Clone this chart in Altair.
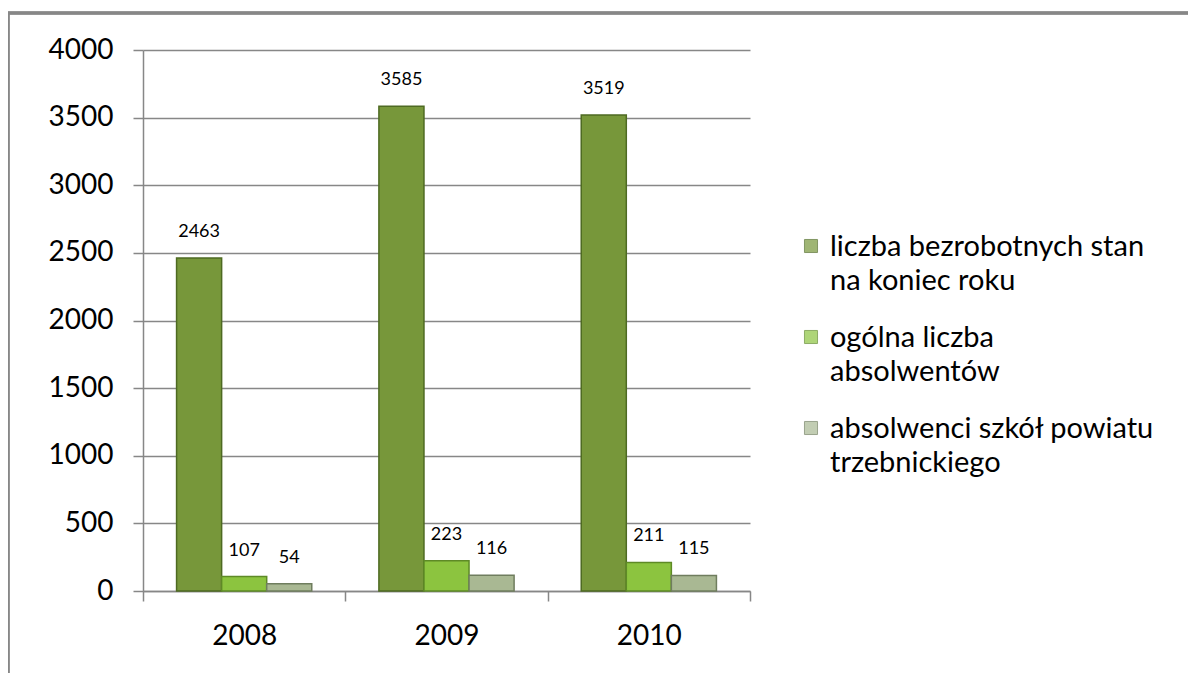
import altair as alt
import pandas as pd

years = ["2008", "2009", "2010"]
series = [
    "liczba bezrobotnych stan\nna koniec roku",
    "ogólna liczba\nabsolwentów",
    "absolwenci szkół powiatu\ntrzebnickiego",
]
unemployed = [2463, 3585, 3519]
graduates = [107, 223, 211]
local_graduates = [54, 116, 115]
y_ticks = [0, 500, 1000, 1500, 2000, 2500, 3000, 3500, 4000]

fills = ["#77973A", "#8CC43F", "#A9B893"]
strokes = ["#4E6A22", "#5E8A26", "#6F7D5E"]

rows = []
for s, vals in zip(series, [unemployed, graduates, local_graduates]):
    for yr, v in zip(years, vals):
        rows.append({"year": yr, "series": s, "value": v})
df = pd.DataFrame(rows)
leg_df = pd.DataFrame({"series": series})

FONT = "Lato"
GRID = "#878787"

color_scale = alt.Scale(domain=series, range=fills)
stroke_scale = alt.Scale(domain=series, range=strokes)

base = alt.Chart(df).encode(
    x=alt.X("year:N", sort=years, title=None,
            scale=alt.Scale(paddingInner=0, paddingOuter=0),
            axis=alt.Axis(labelAngle=0, labelFontSize=28, labelFont=FONT,
                          labelColor="black", labelPadding=21,
                          domainColor=GRID, domainWidth=1.5,
                          tickColor=GRID, tickWidth=1.5, tickSize=10,
                          tickBand="extent", grid=False)),
    xOffset=alt.XOffset("series:N", sort=series,
                        scale=alt.Scale(paddingOuter=0.745, paddingInner=0)),
    y=alt.Y("value:Q", title=None,
            scale=alt.Scale(domain=[0, 4000], nice=False),
            axis=alt.Axis(values=y_ticks, format="d", labelFontSize=28,
                          labelFont=FONT, labelColor="black", labelPadding=20,
                          domainColor=GRID, domainWidth=1.5,
                          tickColor=GRID, tickWidth=1.5, tickSize=10,
                          gridColor=GRID, gridWidth=1.5)),
)

bars = base.mark_bar(strokeWidth=1.5).encode(
    color=alt.Color("series:N", scale=color_scale, legend=None),
    stroke=alt.Stroke("series:N", scale=stroke_scale, legend=None),
)
labels = base.mark_text(dy=-26, baseline="middle", fontSize=18,
                        font=FONT, color="black").encode(text="value:Q")

bar_layer = alt.layer(bars, labels)

leg_y = alt.Y("series:N", sort=series, axis=None,
              scale=alt.Scale(type="point", domain=series, range=[206, 388],
                              padding=0))
leg_sq = alt.Chart(leg_df).mark_square(size=170, yOffset=-10, strokeWidth=1).encode(
    x=alt.value(668), y=leg_y,
    color=alt.Color("series:N", scale=color_scale, legend=None),
    stroke=alt.Stroke("series:N", scale=stroke_scale, legend=None),
)
leg_txt = alt.Chart(leg_df).mark_text(
    align="left", baseline="alphabetic", lineBreak="\n", lineHeight=34,
    fontSize=29, font=FONT, color="black"
).encode(x=alt.value(687), y=leg_y, text="series:N")
legend_layer = alt.layer(leg_sq, leg_txt)

frame_top = alt.Chart(leg_df).mark_rule(color=GRID, strokeWidth=3).encode(
    x=alt.value(-135), x2=alt.value(1045), y=alt.value(-37))
frame_left = alt.Chart(leg_df).mark_rule(color=GRID, strokeWidth=3).encode(
    x=alt.value(-135), y=alt.value(-38), y2=alt.value(640))

chart = alt.layer(bar_layer, legend_layer, frame_top, frame_left).resolve_scale(
    y="independent"
).properties(
    width=607, height=541,
    autosize=alt.AutoSizeParams(type="none"),
    padding={"left": 135, "top": 42, "right": 438, "bottom": 82},
).configure_view(stroke=None)

chart.save("out.html", embed_options={"renderer": "svg", "actions": False})
